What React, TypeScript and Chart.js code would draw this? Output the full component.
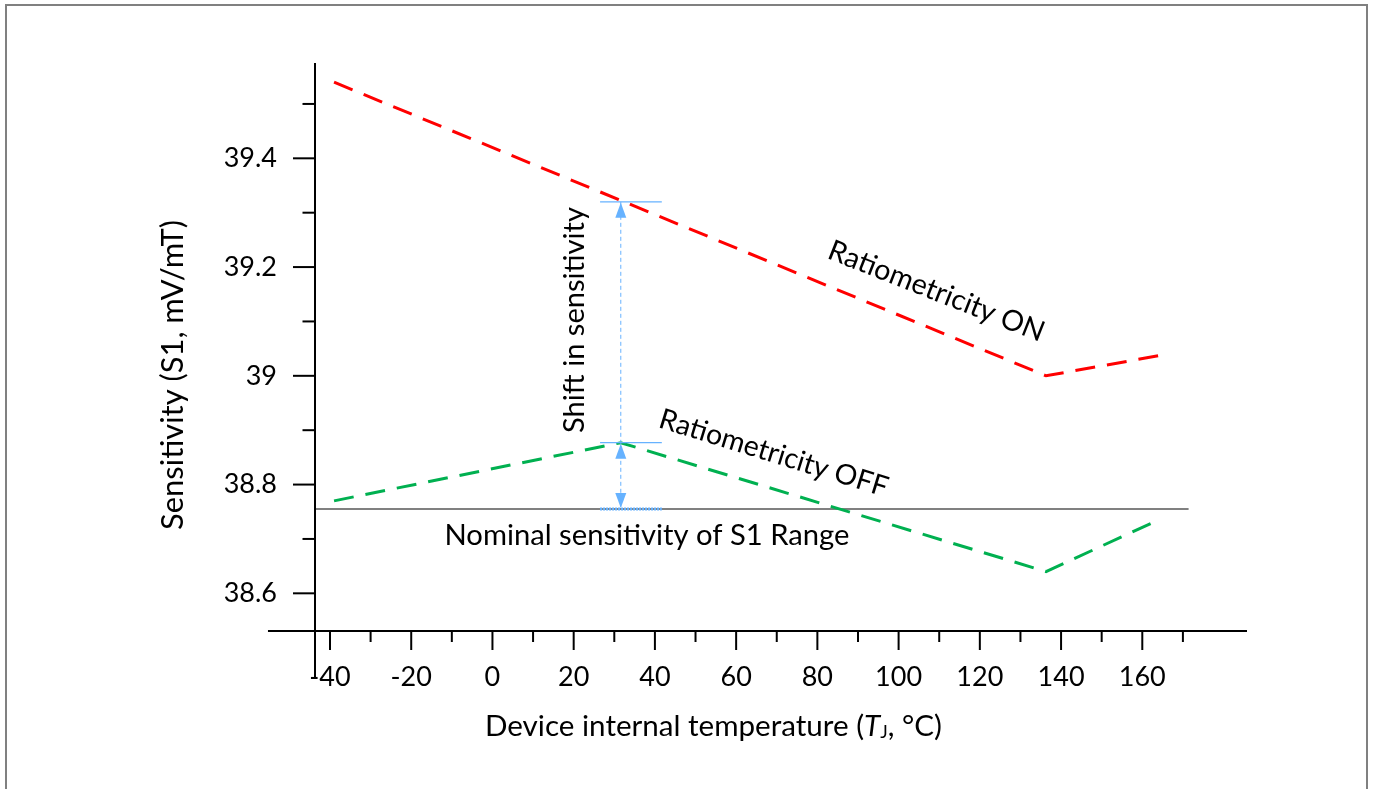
import React, { useEffect, useRef } from 'react';
import { Chart, registerables } from 'chart.js';

Chart.register(...registerables);

// ---- data ----
const TEMP_ON = [-39, 136.3, 164.8];
const SENS_ON = [39.54, 39.0, 39.038];
const TEMP_OFF = [-39, 31.6, 136.3, 164];
const SENS_OFF = [38.77, 38.877, 38.64, 38.735];
const NOMINAL_TEMP = [-43.69, 171.4];
const NOMINAL_SENS = 38.755;

const X_MAJOR = [-40, -20, 0, 20, 40, 60, 80, 100, 120, 140, 160];
const X_MINOR = [-30, -10, 10, 30, 50, 70, 90, 110, 130, 150, 170];
const Y_MAJOR = [38.6, 38.8, 39, 39.2, 39.4];
const Y_MINOR = [38.7, 38.9, 39.1, 39.3, 39.5];

const SHIFT_TEMP = 31.6;
const SHIFT_TOP = 39.32;
const SHIFT_BOTTOM = 38.877;
const MARK_TEMP = [26.5, 41.7];

const X_TITLE = ['Device internal temperature (', 'T', 'J', ', °C)'];
const Y_TITLE = 'Sensitivity (S1, mV/mT)';
const LABEL_ON = 'Ratiometricity ON';
const LABEL_OFF = 'Ratiometricity OFF';
const LABEL_SHIFT = 'Shift in sensitivity';
const LABEL_NOMINAL = 'Nominal sensitivity of S1 Range';

// ---- scale ranges ----
const X_MIN = -43.69;
const X_MAX = 185.78;
const Y_MIN = 38.5307;
const Y_MAX = 39.5753;
const X_AXIS_LEFT = -55.27;
const Y_AXIS_BOTTOM = 38.4442;

const FAMILY = 'Lato, "Open Sans", sans-serif';
const BLUE = '#66B2FF';

function fitSize(ctx: CanvasRenderingContext2D, text: string, width: number, style = '') {
  ctx.font = `${style} 100px ${FAMILY}`;
  const w = ctx.measureText(text).width;
  return (100 * width) / w;
}

const decor = {
  id: 'decor',
  afterDatasetsDraw(chart: any) {
    const { ctx } = chart;
    const xs = chart.scales.x;
    const ys = chart.scales.y;
    const X = (v: number) => xs.getPixelForValue(v);
    const Y = (v: number) => ys.getPixelForValue(v);
    const seg = (x1: number, y1: number, x2: number, y2: number) => {
      ctx.beginPath();
      ctx.moveTo(x1, y1);
      ctx.lineTo(x2, y2);
      ctx.stroke();
    };
    ctx.save();

    // frame
    ctx.strokeStyle = '#808080';
    ctx.lineWidth = 2;
    ctx.strokeRect(6, 5, 1361, 830);

    // axes
    ctx.strokeStyle = '#000';
    ctx.lineWidth = 2;
    const ax = X(X_MIN);
    const ay = Y(Y_MIN);
    seg(X(X_AXIS_LEFT), ay, X(X_MAX), ay);
    seg(ax, Y(Y_MAX), ax, Y(Y_AXIS_BOTTOM));
    X_MAJOR.forEach((v) => seg(X(v), ay, X(v), ay + 19));
    X_MINOR.forEach((v) => seg(X(v), ay, X(v), ay + 11));
    Y_MAJOR.forEach((v) => seg(ax - 22, Y(v), ax, Y(v)));
    Y_MINOR.forEach((v) => seg(ax - 12.5, Y(v), ax, Y(v)));

    // shift annotation
    const sx = X(SHIFT_TEMP);
    const yTop = Y(SHIFT_TOP);
    const yMid = Y(SHIFT_BOTTOM);
    const yNom = Y(NOMINAL_SENS);
    ctx.strokeStyle = BLUE;
    ctx.lineWidth = 1.2;
    seg(X(MARK_TEMP[0]), yTop, X(MARK_TEMP[1]), yTop);
    seg(X(MARK_TEMP[0]), yMid, X(MARK_TEMP[1]), yMid);
    ctx.setLineDash([4, 3]);
    ctx.lineWidth = 1;
    seg(sx, yTop, sx, yNom);
    ctx.lineWidth = 3;
    ctx.setLineDash([2, 1]);
    seg(X(MARK_TEMP[0]), yNom, X(MARK_TEMP[1]), yNom);
    ctx.setLineDash([]);
    ctx.fillStyle = BLUE;
    const arrow = (tipY: number, dir: number) => {
      ctx.beginPath();
      ctx.moveTo(sx, tipY);
      ctx.lineTo(sx - 5.5, tipY + dir * 15);
      ctx.lineTo(sx + 5.5, tipY + dir * 15);
      ctx.closePath();
      ctx.fill();
    };
    arrow(yTop + 1, 1);
    arrow(yMid + 1, 1);
    arrow(yNom - 1, -1);

    // texts
    ctx.fillStyle = '#000';
    ctx.textBaseline = 'alphabetic';
    ctx.textAlign = 'center';

    // nominal label
    let s = fitSize(ctx, LABEL_NOMINAL, 405);
    ctx.font = `${s}px ${FAMILY}`;
    ctx.fillText(LABEL_NOMINAL, 647, 545);

    // shift label (vertical)
    s = fitSize(ctx, LABEL_SHIFT, 226);
    ctx.save();
    ctx.translate(584, 320);
    ctx.rotate(-Math.PI / 2);
    ctx.font = `${s}px ${FAMILY}`;
    ctx.fillText(LABEL_SHIFT, 0, 0);
    ctx.restore();

    // y title
    s = fitSize(ctx, Y_TITLE, 310);
    ctx.save();
    ctx.translate(183, 375);
    ctx.rotate(-Math.PI / 2);
    ctx.font = `${s}px ${FAMILY}`;
    ctx.fillText(Y_TITLE, 0, 0);
    ctx.restore();

    // Ratiometricity ON
    s = fitSize(ctx, LABEL_ON, 230);
    ctx.save();
    ctx.translate(933, 300);
    ctx.rotate((21.5 * Math.PI) / 180);
    ctx.font = `${s}px ${FAMILY}`;
    ctx.fillText(LABEL_ON, 0, 0);
    ctx.restore();

    // Ratiometricity OFF
    s = fitSize(ctx, LABEL_OFF, 238);
    ctx.save();
    ctx.translate(771, 462);
    ctx.rotate((17.1 * Math.PI) / 180);
    ctx.font = `${s}px ${FAMILY}`;
    ctx.fillText(LABEL_OFF, 0, 0);
    ctx.restore();

    // x title with italic T and subscript J
    const base = 27;
    const parts = [
      { t: X_TITLE[0], f: `${base}px ${FAMILY}`, dy: 0 },
      { t: X_TITLE[1], f: `italic ${base}px ${FAMILY}`, dy: 0 },
      { t: X_TITLE[2], f: `${base * 0.6}px ${FAMILY}`, dy: 2 },
      { t: X_TITLE[3], f: `${base}px ${FAMILY}`, dy: 0 },
    ];
    let total = 0;
    parts.forEach((p) => {
      ctx.font = p.f;
      total += ctx.measureText(p.t).width;
    });
    const k = 457 / total;
    const scaled = parts.map((p) => ({ ...p, f: p.f.replace(/([\d.]+)px/, (_m: string, n: string) => `${parseFloat(n) * k}px`) }));
    let cx = 713.5 - 457 / 2;
    ctx.textAlign = 'left';
    scaled.forEach((p) => {
      ctx.font = p.f;
      ctx.fillText(p.t, cx, 736 + p.dy);
      cx += ctx.measureText(p.t).width;
    });

    ctx.restore();
  },
};

export default function App() {
  const ref = useRef<HTMLCanvasElement | null>(null);
  useEffect(() => {
    if (!ref.current) return;
    const chart = new Chart(ref.current, {
      type: 'line',
      data: {
        datasets: [
          {
            label: LABEL_ON,
            data: TEMP_ON.map((t, i) => ({ x: t, y: SENS_ON[i] })),
            borderColor: '#FF0000',
            borderWidth: 3,
            borderDash: [20, 12],
            pointRadius: 0,
            fill: false,
            tension: 0,
          },
          {
            label: LABEL_OFF,
            data: TEMP_OFF.map((t, i) => ({ x: t, y: SENS_OFF[i] })),
            borderColor: '#00B050',
            borderWidth: 3,
            borderDash: [20, 12],
            pointRadius: 0,
            fill: false,
            tension: 0,
          },
          {
            label: LABEL_NOMINAL,
            data: NOMINAL_TEMP.map((t) => ({ x: t, y: NOMINAL_SENS })),
            borderColor: '#808080',
            borderWidth: 2,
            pointRadius: 0,
            fill: false,
          },
        ],
      },
      options: {
        animation: false,
        responsive: false,
        events: [],
        layout: { padding: { top: 63, right: 126, left: 0, bottom: 0 } },
        plugins: { legend: { display: false }, tooltip: { enabled: false }, title: { display: false } },
        scales: {
          x: {
            type: 'linear',
            position: 'bottom',
            min: X_MIN,
            max: X_MAX,
            grid: { display: false, drawTicks: false },
            border: { display: false },
            afterBuildTicks: (s: any) => {
              s.ticks = X_MAJOR.map((v) => ({ value: v }));
            },
            afterFit: (s: any) => {
              s.height = 158;
            },
            ticks: {
              color: '#000',
              font: { family: FAMILY, size: 27 },
              padding: 30,
              maxRotation: 0,
              autoSkip: false,
              callback: (v: any) => String(v),
            },
          },
          y: {
            type: 'linear',
            position: 'left',
            min: Y_MIN,
            max: Y_MAX,
            grid: { display: false, drawTicks: false },
            border: { display: false },
            afterBuildTicks: (s: any) => {
              s.ticks = Y_MAJOR.map((v) => ({ value: v }));
            },
            afterFit: (s: any) => {
              s.width = 315;
            },
            ticks: {
              color: '#000',
              font: { family: FAMILY, size: 27 },
              padding: 38,
              autoSkip: false,
              callback: (v: any) => String(v),
            },
          },
        },
      },
      plugins: [decor],
    } as any);
    return () => chart.destroy();
  }, []);
  return (
    <div style={{ position: 'fixed', left: 0, top: 0, width: 1373, height: 789, background: '#fff' }}>
      <canvas ref={ref} width={1373} height={789} style={{ display: 'block' }} />
    </div>
  );
}
